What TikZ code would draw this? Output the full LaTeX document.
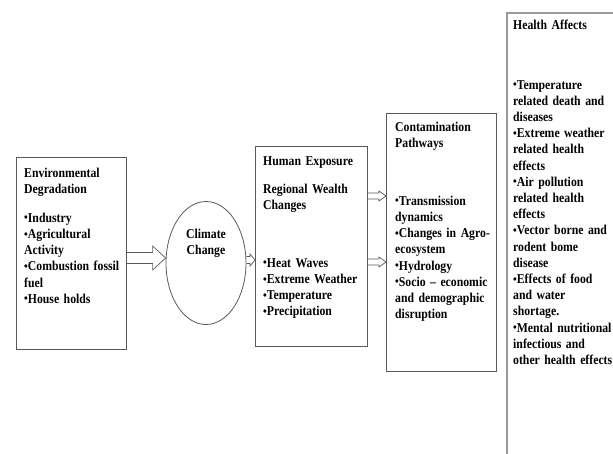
\documentclass[tikz,border=0pt]{standalone}
\usepackage{fontspec}
\usepackage{graphicx}
\usepackage{tikz}
\usetikzlibrary{calc,shapes.geometric}
\newfontfamily\diagfont{Liberation Serif Bold}[FakeStretch=0.87, WordSpace=0.55]
\newcommand{\bul}{\raisebox{0.3pt}{\scalebox{0.9}{•}}}
\newcommand{\diagtext}{\diagfont\fontsize{13.5}{16.2}\selectfont}

\tikzset{
	box/.style={draw=black!65, line width=0.8pt, rectangle, inner sep=0pt, anchor=north west},
	sidebox/.style={draw=black!40, line width=1.8pt, rectangle, inner sep=0pt, anchor=north west},
	txt/.style={font=\diagtext, anchor=base west, inner sep=0pt, text width=150pt, align=left},
	arrowline/.style={draw=black!65, line width=0.7pt, line join=miter}
}

% hollow block arrow: start, tip, half shaft, half head, head length
\newcommand{\hollowarrow}[5]{%
	\draw[arrowline] ($(#1)+(0,#3)$) -- ($(#2)+(-#5,#3)$) -- ($(#2)+(-#5,#4)$) -- (#2)
		-- ($(#2)+(-#5,-#4)$) -- ($(#2)+(-#5,-#3)$) -- ($(#1)+(0,-#3)$);}

\begin{document}
\begin{tikzpicture}[x=1pt, y=-1pt]

		\useasboundingbox (0,0) rectangle (613,453);

		% boxes
		\node[box, minimum width=110pt, minimum height=192pt] (envbox) at (16,157) {};
		\node[draw=black!65, line width=0.8pt, ellipse, minimum width=80pt, minimum height=123pt, inner sep=0pt] (climate) at (206,263) {};
		\node[box, minimum width=112pt, minimum height=200pt] (humanbox) at (255,146) {};
		\node[box, minimum width=110pt, minimum height=258pt] (pathbox) at (386,113) {};
		\begin{scope}
			\clip (0,0) rectangle (613,453);
			\node[sidebox, minimum width=130pt, minimum height=460pt] (healthbox) at (506,12) {};
		\end{scope}

		% texts
		\node[txt] (envtxt) at (24,177) {Environmental\\Degradation\\[12.8pt]%
			\bul Industry\\\bul Agricultural\\Activity\\\bul Combustion fossil\\fuel\\\bul House holds};
		\node[txt, align=center, text width=70pt, anchor=base] (climatetxt) at (206,238) {Climate\\Change};
		\node[txt] (humantxt) at (263,165) {Human Exposure\\[11.8pt]Regional Wealth\\Changes\\[41.8pt]%
			\bul Heat Waves\\\bul Extreme Weather\\\bul Temperature\\\bul Precipitation};
		\node[txt] (pathtxt) at (395,131) {Contamination\\Pathways\\[41.8pt]%
			\bul Transmission\\dynamics\\\bul Changes in Agro-\\ecosystem\\\bul Hydrology\\\bul Socio – economic\\and demographic\\disruption};
		\node[txt] (healthtxt) at (513,29) {Health Affects\\[43.8pt]%
			\bul Temperature\\related death and\\diseases\\\bul Extreme weather\\related health\\effects\\%
			\bul Air pollution\\related health\\effects\\\bul Vector borne and\\rodent bome\\disease\\%
			\bul Effects of food\\and water\\shortage.\\\bul Mental nutritional\\infectious and\\other health effects};

		% arrows
		\coordinate (rowA) at (0,258);
		\coordinate (rowB) at (0,260);
		\coordinate (rowC) at (0,196);
		\coordinate (rowD) at (0,262);
		\coordinate (a1s) at (envbox.east |- rowA);   \coordinate (a1t) at (climate.west |- rowA);
		\coordinate (a2s) at (climate.east |- rowB);  \coordinate (a2t) at (humanbox.west |- rowB);
		\coordinate (a3s) at (humanbox.east |- rowC); \coordinate (a3t) at (pathbox.west |- rowC);
		\coordinate (a4s) at (humanbox.east |- rowD); \coordinate (a4t) at (pathbox.west |- rowD);
		\hollowarrow{a1s}{a1t}{5.5}{12}{13}
		\hollowarrow{a2s}{a2t}{3.5}{6}{5}
		\hollowarrow{a3s}{a3t}{3}{5}{7}
		\hollowarrow{a4s}{a4t}{3}{5}{7}

\end{tikzpicture}
\end{document}
